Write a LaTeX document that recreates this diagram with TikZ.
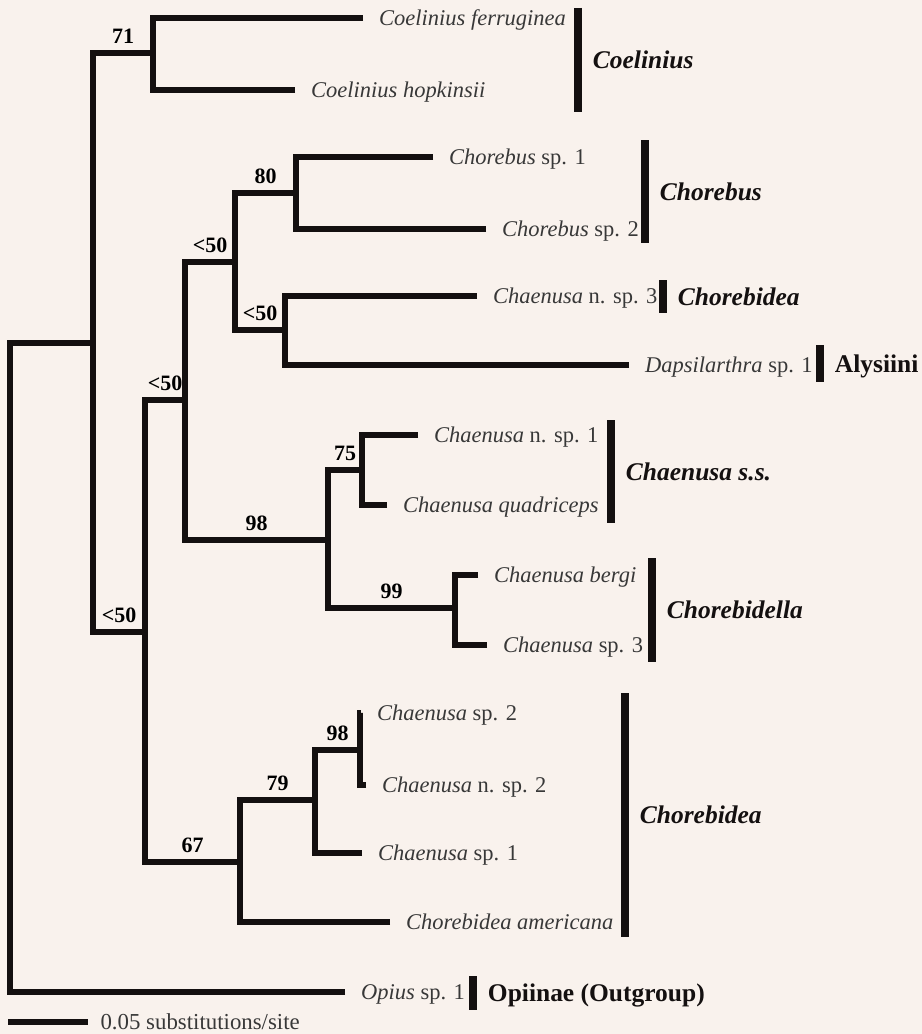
\documentclass[tikz,border=0pt]{standalone}
\usepackage{fontspec}
\setmainfont{Liberation Serif}
\definecolor{paper}{RGB}{249, 242, 237}
\definecolor{ink}{RGB}{20, 16, 16}
\usetikzlibrary{positioning}

\begin{document}
\begin{tikzpicture}[
                x=0.02cm, y=-0.02cm,
                branch/.style={draw=ink, line width=3.3pt, line join=miter},
                cladebar/.style={draw=ink, line width=4pt},
                support/.style={above, inner sep=3.5pt, font=\fontsize{12.5}{14}\selectfont\bfseries},
                taxon/.style={anchor=west, inner sep=0pt, text=black!78, text height=9pt, text depth=0pt, font=\fontsize{12.8}{15}\selectfont},
                clade/.style={right=6.5pt, inner sep=0pt, text=ink, text height=10pt, text depth=0pt, font=\fontsize{14.5}{17}\selectfont\bfseries}
            ]
                \fill[paper] (0,0) rectangle (922,1034);
                \useasboundingbox (0,0) rectangle (922,1034);

                \coordinate (root) at (10,600);
                \coordinate (nA) at (93,343);
                \coordinate (nCoel) at (153,53);
                \coordinate (nB) at (145,632);
                \coordinate (nC) at (185,400);
                \coordinate (nD) at (235,262);
                \coordinate (nChor) at (296,193);
                \coordinate (nF) at (285,330);
                \coordinate (nG) at (328,540);
                \coordinate (nH) at (362,470);
                \coordinate (nI) at (455,608);
                \coordinate (nJ) at (240,862);
                \coordinate (nK) at (315,800);
                \coordinate (nL) at (360,750);

                \coordinate (tFerr) at (363,18);
                \coordinate (tHopk) at (295,90);
                \coordinate (tChor1) at (433,157);
                \coordinate (tChor2) at (486,229);
                \coordinate (tCnsp3) at (477,296);
                \coordinate (tDaps) at (629,365);
                \coordinate (tCnsp1) at (418,435);
                \coordinate (tQuad) at (387,505);
                \coordinate (tBerg) at (478,575);
                \coordinate (tCsp3) at (487,645);
                \coordinate (tCsp2) at (361,713);
                \coordinate (tCnsp2) at (366,785);
                \coordinate (tCsp1) at (362,853);
                \coordinate (tAmer) at (390,922);
                \coordinate (tOpius) at (345,992);

                \draw[branch] (nA) -| (root);
                \draw[branch] (tOpius) -| (root);
                \draw[branch] (nCoel) -| node[support, pos=0.25] {71} (nA);
                \draw[branch] (nB) -| node[support, pos=0.25] {<50} (nA);
                \draw[branch] (nC) -| node[support, pos=0.25] {<50} (nB);
                \draw[branch] (nJ) -| node[support, pos=0.25] {67} (nB);
                \draw[branch] (nD) -| node[support, pos=0.25] {<50} (nC);
                \draw[branch] (nG) -| node[support, pos=0.25] {98} (nC);
                \draw[branch] (nChor) -| node[support, pos=0.25] {80} (nD);
                \draw[branch] (nF) -| node[support, pos=0.25] {<50} (nD);
                \draw[branch] (nH) -| node[support, pos=0.25] {75} (nG);
                \draw[branch] (nI) -| node[support, pos=0.25] {99} (nG);
                \draw[branch] (nK) -| node[support, pos=0.25] {79} (nJ);
                \draw[branch] (nL) -| node[support, pos=0.25] {98} (nK);

                \draw[branch] (tFerr) -| (nCoel);
                \draw[branch] (tHopk) -| (nCoel);
                \draw[branch] (tChor1) -| (nChor);
                \draw[branch] (tChor2) -| (nChor);
                \draw[branch] (tCnsp3) -| (nF);
                \draw[branch] (tDaps) -| (nF);
                \draw[branch] (tCnsp1) -| (nH);
                \draw[branch] (tQuad) -| (nH);
                \draw[branch] (tBerg) -| (nI);
                \draw[branch] (tCsp3) -| (nI);
                \draw[branch] (tCsp2) -| (nL);
                \draw[branch] (tCnsp2) -| (nL);
                \draw[branch] (tCsp1) -| (nK);
                \draw[branch] (tAmer) -| (nJ);

                \node[taxon, right=9pt of tFerr] (lFerr) {\textit{Coelinius ferruginea}};
                \node[taxon, right=9pt of tHopk] (lHopk) {\textit{Coelinius hopkinsii}};
                \node[taxon, right=9pt of tChor1] (lChor1) {\textit{Chorebus} sp. 1};
                \node[taxon, right=9pt of tChor2] (lChor2) {\textit{Chorebus} sp. 2};
                \node[taxon, right=9pt of tCnsp3] (lCnsp3) {\textit{Chaenusa} n. sp. 3};
                \node[taxon, right=9pt of tDaps] (lDaps) {\textit{Dapsilarthra} sp. 1};
                \node[taxon, right=9pt of tCnsp1] (lCnsp1) {\textit{Chaenusa} n. sp. 1};
                \node[taxon, right=9pt of tQuad] (lQuad) {\textit{Chaenusa quadriceps}};
                \node[taxon, right=9pt of tBerg] (lBerg) {\textit{Chaenusa bergi}};
                \node[taxon, right=9pt of tCsp3] (lCsp3) {\textit{Chaenusa} sp. 3};
                \node[taxon, right=9pt of tCsp2] (lCsp2) {\textit{Chaenusa} sp. 2};
                \node[taxon, right=9pt of tCnsp2] (lCnsp2) {\textit{Chaenusa} n. sp. 2};
                \node[taxon, right=9pt of tCsp1] (lCsp1) {\textit{Chaenusa} sp. 1};
                \node[taxon, right=9pt of tAmer] (lAmer) {\textit{Chorebidea americana}};
                \node[taxon, right=9pt of tOpius] (lOpius) {\textit{Opius} sp. 1};

                \draw[cladebar] (578,8) -- (578,112) node[clade, midway] (gCoel) {\textit{Coelinius}};
                \draw[cladebar] (645,140) -- (645,243) node[clade, midway] (gChor) {\textit{Chorebus}};
                \draw[cladebar] (663,280) -- (663,313) node[clade, midway] (gChb1) {\textit{Chorebidea}};
                \draw[cladebar] (820,345) -- (820,382) node[clade, midway] (gAlys) {Alysiini};
                \draw[cladebar] (611,420) -- (611,523) node[clade, midway] (gChss) {\textit{Chaenusa s.s.}};
                \draw[cladebar] (652,558) -- (652,662) node[clade, midway] (gChla) {\textit{Chorebidella}};
                \draw[cladebar] (625,693) -- (625,937) node[clade, midway] (gChb2) {\textit{Chorebidea}};
                \draw[cladebar] (473,976) -- (473,1010) node[clade, midway] (gOpii) {Opiinae (Outgroup)};

                \coordinate (sb1) at (8,1022);
                \coordinate (sb2) at (88,1022);
                \draw[branch] (sb1) -- (sb2) node[right=5.5pt, inner sep=0pt, text=black!78, font=\fontsize{13}{15}\selectfont] (sbText) {0.05 substitutions/site};
            \end{tikzpicture}
\end{document}
